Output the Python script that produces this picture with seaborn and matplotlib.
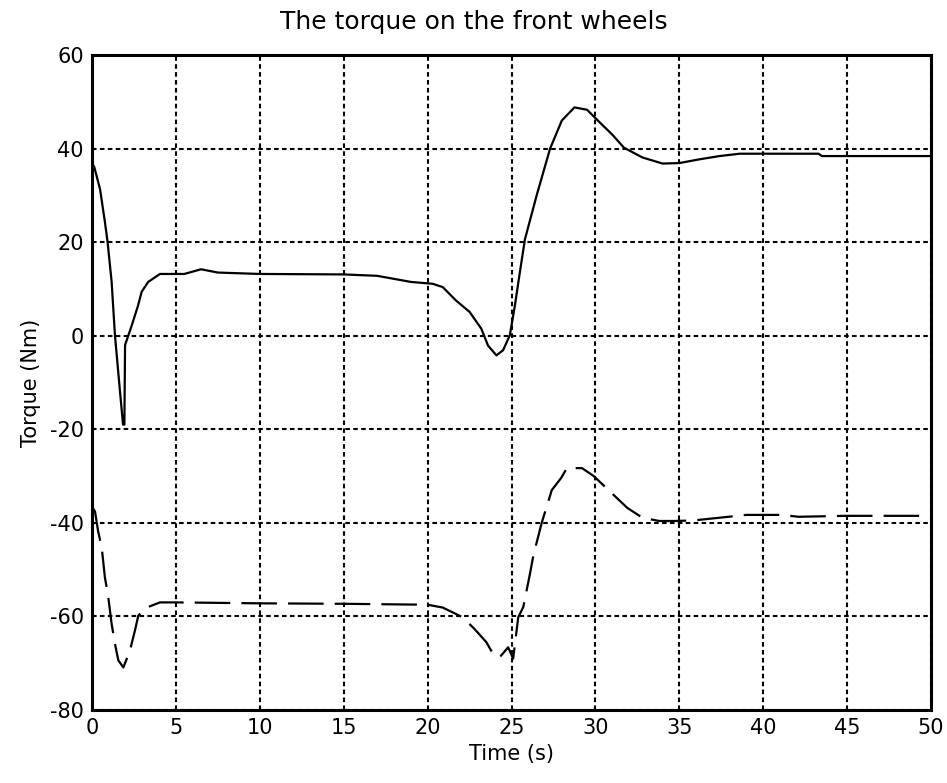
import matplotlib
matplotlib.use("Agg")
import matplotlib.pyplot as plt
import seaborn as sns
import pandas as pd

# ---- data ----
t_solid = [0, 0.14, 0.48, 0.77, 0.93, 1.17, 1.37, 1.67, 1.85, 1.93, 1.97, 2.36, 2.74, 2.96,
           3.35, 4.05, 5.5, 6.5, 7.5, 10, 15, 17, 19, 20.3, 20.9, 21.7, 22.5, 23.2, 23.6,
           24.1, 24.5, 24.9, 25.2, 25.5, 25.8, 26.5, 27.3, 28.0, 28.75, 29.5, 30.2, 31.0,
           31.7, 32.8, 34.0, 35.0, 36.2, 37.4, 38.6, 43.3, 43.5, 50]
torque_solid = [37, 36, 31.3, 24.3, 20, 11.5, 0, -12, -19, -19, -2, 2.1, 6.4, 9.4,
                11.5, 13.2, 13.2, 14.2, 13.5, 13.2, 13.1, 12.8, 11.5, 11.1, 10.4, 7.5, 5.1, 1.5, -2.1,
                -4.2, -3.1, 0.1, 6.4, 13.6, 20.6, 30, 40, 46, 48.8, 48.3, 45.8, 43,
                40.2, 38.1, 36.8, 36.9, 37.7, 38.4, 38.9, 38.9, 38.4, 38.4]

t_dashed = [0, 0.18, 0.36, 0.58, 0.77, 0.95, 1.17, 1.37, 1.57, 1.87, 2.26, 2.56, 2.76, 3.26,
            4.05, 5, 10, 15, 20, 20.9, 22.1, 22.8, 23.5, 23.9, 24.3, 24.8, 25.1, 25.4, 25.7,
            26.1, 26.3, 26.8, 27.4, 27.96, 28.3, 29.2, 29.9, 31.9, 32.8, 33.8, 34.7, 35.8,
            37.4, 39, 41.1, 42.1, 44.9, 50]
torque_dashed = [-36.5, -37.6, -41.7, -45.3, -51.7, -55.3, -61.6, -65.9, -69.4, -70.9, -67.3, -63, -59.8, -58.1,
                 -57, -57, -57.2, -57.3, -57.5, -58.1, -60.2, -62.7, -65.5, -68, -68.7, -66.6, -69, -60.2, -58,
                 -50.9, -47, -40, -33, -30.4, -28.3, -28.3, -30, -36.8, -38.9, -39.6, -39.6, -39.5,
                 -38.9, -38.3, -38.3, -38.7, -38.5, -38.5]

x_ticks = [0, 5, 10, 15, 20, 25, 30, 35, 40, 45, 50]
y_ticks = [-80, -60, -40, -20, 0, 20, 40, 60]
title = "The torque on the front wheels"
xlabel = "Time (s)"
ylabel = "Torque (Nm)"

# ---- plot ----
sns.set_style("white")
plt.rcParams["font.family"] = ["DejaVu Sans"]
plt.rcParams["axes.unicode_minus"] = False
plt.rcParams["text.color"] = "black"
plt.rcParams["axes.labelcolor"] = "black"

fig = plt.figure(figsize=(9.47, 7.83), dpi=100)
ax = fig.add_axes([92 / 947, 1 - 710 / 783, (931 - 92) / 947, (710 - 55) / 783])

df1 = pd.DataFrame({"t": t_solid, "torque": torque_solid})
df2 = pd.DataFrame({"t": t_dashed, "torque": torque_dashed})
sns.lineplot(data=df1, x="t", y="torque", ax=ax, color="black", linewidth=1.6,
             estimator=None, sort=False)
sns.lineplot(data=df2, x="t", y="torque", ax=ax, color="black", linewidth=1.6,
             estimator=None, sort=False, linestyle=(0, (16, 5)))

ax.set_xlim(0, 50)
ax.set_ylim(-80, 60)
ax.set_xticks(x_ticks)
ax.set_yticks(y_ticks)
ax.tick_params(axis="both", labelsize=15, direction="in", length=4, width=1,
               colors="black", pad=6)
ax.grid(True, color="black", linestyle=(0, (2.2, 1.6)), linewidth=1.5)
for s in ax.spines.values():
    s.set_visible(True)
    s.set_color("black")
    s.set_linewidth(2.2)

ax.set_xlabel(xlabel, fontsize=15, labelpad=4, color="black")
ax.set_ylabel(ylabel, fontsize=15, labelpad=6, color="black")
fig.suptitle(title, x=0.5, y=0.987, fontsize=18, va="top", color="black")

fig.savefig("out.png", dpi=100, facecolor="white")
